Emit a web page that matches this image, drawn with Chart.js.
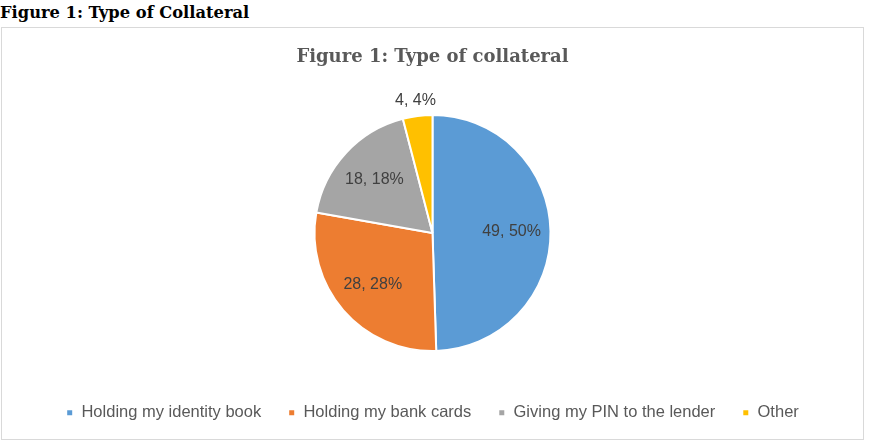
<!DOCTYPE html>
<html>
<head>
<meta charset="utf-8">
<script src="https://cdn.jsdelivr.net/npm/chart.js@4/dist/chart.umd.min.js"></script>
<style>
    body { margin: 0; background: #ffffff; width: 874px; height: 444px; position: relative; overflow: hidden; }
    #heading { position: absolute; left: 0; top: 3px; font: bold 16.3px 'DejaVu Serif', serif; color: #000; }
    #box { position: absolute; left: 1px; top: 27px; width: 861px; height: 411px; border: 1px solid #d9d9d9; }
</style>
</head>
<body>
<div id="heading">Figure 1: Type of Collateral</div>
<div id="box"><canvas id="pieChart" width="861" height="411"></canvas></div>
<script>
const categories = ['Holding my identity book', 'Holding my bank cards', 'Giving my PIN to the lender', 'Other'];
const counts = [49, 28, 18, 4];
const percentLabels = ['50%', '28%', '18%', '4%'];
const sliceColors = ['#5b9bd5', '#ed7d31', '#a5a5a5', '#ffc000'];

// draw "count, pct" labels on the slices, small ones go outside
const sliceLabels = {
    id: 'sliceLabels',
    afterDatasetsDraw(chart) {
        const ctx = chart.ctx;
        const meta = chart.getDatasetMeta(0);
        const total = counts.reduce((a, b) => a + b, 0);
        ctx.save();
        ctx.font = '16px "Liberation Sans", sans-serif';
        ctx.fillStyle = '#404040';
        ctx.textAlign = 'center';
        ctx.textBaseline = 'middle';
        meta.data.forEach((arc, i) => {
            const mid = (arc.startAngle + arc.endAngle) / 2;
            const r = counts[i] / total < 0.06 ? arc.outerRadius + 16 : arc.outerRadius * 0.67;
            const x = arc.x + Math.cos(mid) * r;
            const y = arc.y + Math.sin(mid) * r;
            ctx.fillText(counts[i] + ', ' + percentLabels[i], x, y);
        });
        ctx.restore();
    }
};

new Chart(document.getElementById('pieChart'), {
    type: 'pie',
    data: {
        labels: categories,
        datasets: [{
            data: counts,
            backgroundColor: sliceColors,
            borderColor: '#ffffff',
            borderWidth: 2,
            radius: 118
        }]
    },
    options: {
        responsive: false,
        animation: false,
        layout: { padding: { top: 0, bottom: 8 } },
        plugins: {
            title: {
                display: true,
                text: 'Figure 1: Type of collateral',
                color: '#595959',
                font: { family: "'DejaVu Serif', serif", size: 18, weight: 'bold' },
                padding: { top: 19, bottom: 20 }
            },
            legend: {
                position: 'bottom',
                labels: {
                    color: '#595959',
                    font: { family: "'Liberation Sans', sans-serif", size: 16.5 },
                    usePointStyle: true,
                    pointStyle: 'rect',
                    boxWidth: 7,
                    boxHeight: 7,
                    padding: 27
                }
            },
            tooltip: { enabled: false }
        }
    },
    plugins: [sliceLabels]
});
</script>
</body>
</html>
